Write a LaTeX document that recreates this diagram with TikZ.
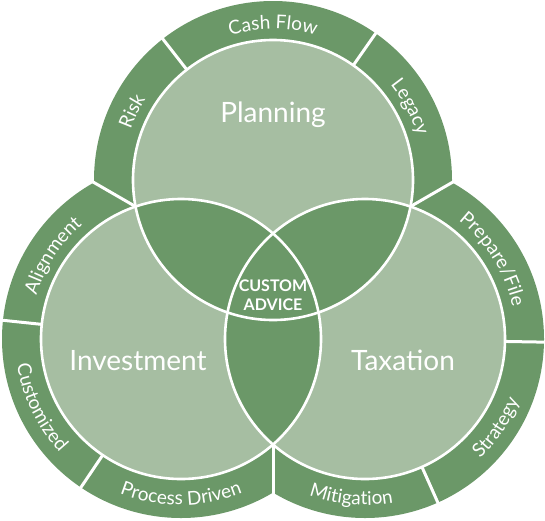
\documentclass[tikz,border=0pt]{standalone}
\usepackage{fontspec}
\setmainfont{Lato}
\usetikzlibrary{decorations.text,calc}
\definecolor{ringgreen}{RGB}{107,152,104}
\definecolor{lightgreen}{RGB}{166,190,162}
\newcommand\ringfont{\fontsize{19}{19}\selectfont}
\begin{document}
\begin{tikzpicture}[x=1pt,y=1pt,
  sep/.style={white, line width=3pt},
  outline/.style={white, line width=2.6pt},
  mainlabel/.style={text=white, font=\fontsize{28}{28}\selectfont, anchor=base, inner sep=0pt},
  centerlabel/.style={text=white, font=\bfseries\fontsize{16}{16}\selectfont, anchor=base, inner sep=0pt},
  ringlabel/.style={decorate, decoration={text along path, text align=center, text color=white, text={|\ringfont|#1}}}
]
\useasboundingbox (0,0) rectangle (545,-520);
\coordinate (P) at (273,-180);
\coordinate (I) at (181,-339);
\coordinate (T) at (365,-339);
\coordinate (C) at (273,-286);
\coordinate (oPI) at (94.1,-182.6);
\coordinate (oPT) at (451.9,-182.6);
\coordinate (oIT) at (273,-492.5);

% outer rings
\fill[ringgreen] (P) circle[radius=179] (I) circle[radius=179] (T) circle[radius=179];

% separators between rings
\draw[sep] (C) -- ($(C)!1.05!(oPI)$);
\draw[sep] (C) -- ($(C)!1.05!(oPT)$);
\draw[sep] (C) -- ($(C)!1.05!(oIT)$);
% radial separators
\draw[sep] ($(P)+(128:120)$) -- ($(P)+(128:190)$);
\draw[sep] ($(P)+(55:120)$) -- ($(P)+(55:190)$);
\draw[sep] ($(I)+(174:120)$) -- ($(I)+(174:190)$);
\draw[sep] ($(I)+(236:120)$) -- ($(I)+(236:190)$);
\draw[sep] ($(T)+(-1:120)$) -- ($(T)+(-1:190)$);
\draw[sep] ($(T)+(-66:120)$) -- ($(T)+(-66:190)$);

% inner circles
\fill[lightgreen] (P) circle[radius=140] (I) circle[radius=140] (T) circle[radius=140];
\begin{scope}
  \clip (P) circle[radius=140];
  \fill[ringgreen] (I) circle[radius=140] (T) circle[radius=140];
\end{scope}
\begin{scope}
  \clip (I) circle[radius=140];
  \fill[ringgreen] (T) circle[radius=140];
\end{scope}
\draw[outline] (P) circle[radius=140];
\draw[outline] (I) circle[radius=140];
\draw[outline] (T) circle[radius=140];

% main labels
\node[mainlabel] (planning) at (273,-122) {Planning};
\node[mainlabel] (investment) at (138,-370) {Investment};
\node[mainlabel] (taxation) at (403,-370) {Taxation};
\node[centerlabel] (custom) at (273,-291) {CUSTOM};
\node[centerlabel] (advice) at (273,-310) {ADVICE};

% ring labels (outward)
\path[ringlabel={Cash Flow}] ($(P)+(135:151)$) arc[start angle=135, end angle=45, radius=151];
\path[ringlabel={Risk}] ($(P)+(199:151)$) arc[start angle=199, end angle=109, radius=151];
\path[ringlabel={Legacy}] ($(P)+(73:151)$) arc[start angle=73, end angle=-17, radius=151];
\path[ringlabel={Alignment}] ($(I)+(192:151)$) arc[start angle=192, end angle=102, radius=151];
\path[ringlabel={Prepare/File}] ($(T)+(77:151)$) arc[start angle=77, end angle=-13, radius=151];
% ring labels (inward)
\path[ringlabel={Customized}] ($(I)+(161:166)$) arc[start angle=161, end angle=251, radius=166];
\path[ringlabel={Process Driven}] ($(I)+(225:166)$) arc[start angle=225, end angle=315, radius=166];
\path[ringlabel={Mitigation}] ($(T)+(-140:166)$) arc[start angle=-140, end angle=-50, radius=166];
\path[ringlabel={Strategy}] ($(T)+(-79:166)$) arc[start angle=-79, end angle=11, radius=166];
\end{tikzpicture}
\end{document}
